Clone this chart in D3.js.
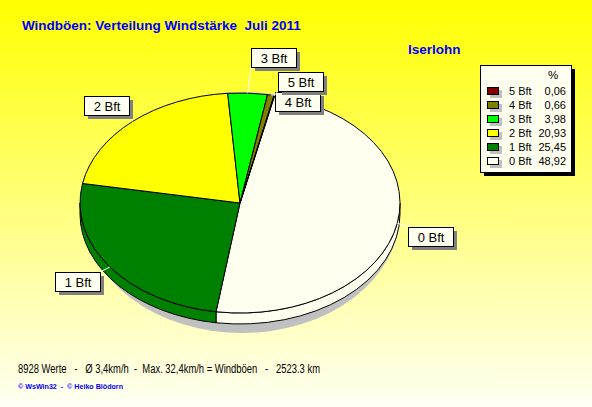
<!DOCTYPE html>
<html><head><meta charset="utf-8">
<script src="https://cdn.jsdelivr.net/npm/d3@7"></script>
<style>body{margin:0;background:#fff}svg{display:block}text{font-family:"Liberation Sans",Arial,sans-serif;white-space:pre}</style>
</head><body><svg id="c" width="592" height="407"></svg>
<script>
// ---- data ----
const categories = ["0 Bft","1 Bft","2 Bft","3 Bft","4 Bft","5 Bft"];
const percentages = [48.92,25.45,20.93,3.98,0.66,0.06];
const colors = ["#fffff0","#008000","#ffff00","#00ff00","#808000","#800000"];
const titleText = "Windböen: Verteilung Windstärke  Juli 2011";
const stationText = "Iserlohn";
const footerText = "8928 Werte   -   Ø 3,4km/h  -  Max. 32,4km/h = Windböen   -   2523.3 km";
const creditText = "© WsWin32  -  © Heiko Blödorn";

// ---- layout ----
const W = 592, H = 407;
const cx = 240, cy = 203, rx = 160, ry = 110, depth = 11;
const startDeg = 12.5;
// label box offsets relative to the slice's mid-angle edge point
const labelOffsets = {
  "0 Bft": [11, 4], "1 Bft": [-55, 5], "2 Bft": [-49, -25],
  "3 Bft": [3, -45], "4 Bft": [4, -3], "5 Bft": [4, -23.5]
};

const svg = d3.select("#c");
const defs = svg.append("defs");
const grad = defs.append("linearGradient").attr("id","bg").attr("x1",0).attr("y1",0).attr("x2",0).attr("y2",1);
grad.append("stop").attr("offset","0%").attr("stop-color","#ffff00");
grad.append("stop").attr("offset","100%").attr("stop-color","#fffff4");
svg.append("rect").attr("width",W).attr("height",H).attr("fill","url(#bg)");

const color = d3.scaleOrdinal().domain(categories).range(colors);
const fmt = v => d3.format(".2f")(v).replace(".", ",");

const pie = d3.pie().sort(null).value(d => d.v)
  .startAngle(startDeg*Math.PI/180).endAngle(startDeg*Math.PI/180 + 2*Math.PI);
const data = categories.map((c,i) => ({c, v: percentages[i]}));
const arcs = pie(data);

const pt = (a, dy=0) => [cx + rx*Math.sin(a), cy - ry*Math.cos(a) + dy];

// shadow
svg.append("ellipse").attr("cx", cx+2).attr("cy", 212.5).attr("rx", 158).attr("ry", 120.5).attr("fill","#c0c0c0");

// side walls (front half: angle in [pi/2, 3pi/2])
const g = svg.append("g");
arcs.forEach(d => {
  const lo = Math.PI/2, hi = 3*Math.PI/2;
  let a0 = Math.max(d.startAngle, lo), a1 = Math.min(d.endAngle, hi);
  if (a1 <= a0) return;
  const p0 = pt(a0), p1 = pt(a1), q1 = pt(a1, depth), q0 = pt(a0, depth);
  const path = `M${p0}A${rx},${ry} 0 0 1 ${p1}L${q1}A${rx},${ry} 0 0 0 ${q0}Z`;
  g.append("path").attr("d", path).attr("fill", color(d.data.c)).attr("stroke","#000").attr("stroke-width",1);
});

// top faces
arcs.forEach(d => {
  const p0 = pt(d.startAngle), p1 = pt(d.endAngle);
  const large = (d.endAngle - d.startAngle) > Math.PI ? 1 : 0;
  const path = `M${cx},${cy}L${p0}A${rx},${ry} 0 ${large} 1 ${p1}Z`;
  g.append("path").attr("d", path).attr("fill", color(d.data.c)).attr("stroke","#000").attr("stroke-width",1).attr("stroke-linejoin","round");
});

// labels
const lab = svg.append("g");
const labelFont = 13;
arcs.forEach(d => {
  const mid = (d.startAngle + d.endAngle)/2;
  const [ax, ay] = pt(mid);
  const off = labelOffsets[d.data.c];
  const tmp = lab.append("text").attr("font-size", labelFont).text(d.data.c);
  const tw = tmp.node().getComputedTextLength();
  tmp.remove();
  const bw = Math.round(tw + 18), bh = 19;
  const bx = Math.round(ax + off[0]), by = Math.round(ay + off[1]);
  const nx = Math.max(bx, Math.min(ax, bx+bw)), ny = Math.max(by, Math.min(ay, by+bh));
  lab.append("line").attr("x1",ax).attr("y1",ay).attr("x2",nx).attr("y2",ny).attr("stroke","#fff").attr("stroke-width",1);
  const bg = lab.append("g");
  bg.append("rect").attr("x",bx+4).attr("y",by+4).attr("width",bw).attr("height",bh).attr("fill","#808080");
  bg.append("rect").attr("x",bx+0.5).attr("y",by+0.5).attr("width",bw).attr("height",bh).attr("fill","#fffff0").attr("stroke","#000");
  bg.append("text").attr("x", bx + bw/2 + 0.5).attr("y", by + bh/2 + 5.5).attr("text-anchor","middle")
    .attr("font-size", labelFont).attr("fill","#000").text(d.data.c);
});

// title
svg.append("text").attr("x",22).attr("y",30).attr("font-size",13.5).attr("font-weight","bold").attr("fill","#0000ff").text(titleText);
svg.append("text").attr("x",408).attr("y",54).attr("font-size",13.5).attr("font-weight","bold").attr("fill","#0000ff").text(stationText);

// legend
const L = {x:480, y:65, w:91, h:107};
svg.append("rect").attr("x",L.x+4).attr("y",L.y+4).attr("width",L.w).attr("height",L.h).attr("fill","#000");
svg.append("rect").attr("x",L.x+0.5).attr("y",L.y+0.5).attr("width",L.w).attr("height",L.h).attr("fill","#fffff0").attr("stroke","#000");
svg.append("text").attr("x",553).attr("y",79).attr("font-size",11.5).attr("text-anchor","middle").text("%");
const legendOrder = categories.map((c,i)=>i).reverse();
const rowY = d3.scalePoint().domain(legendOrder.map(i=>categories[i])).range([91,161]);
legendOrder.forEach(i => {
  const c = categories[i];
  const y = rowY(c);
  svg.append("rect").attr("x",490).attr("y",y-1).attr("width",12).attr("height",8).attr("fill","#c0c0c0");
  svg.append("rect").attr("x",487.5).attr("y",y-3.5).attr("width",11).attr("height",7).attr("fill",color(c)).attr("stroke","#000");
  svg.append("text").attr("x",509).attr("y",y+4).attr("font-size",11).text(c);
  svg.append("text").attr("x",566).attr("y",y+4).attr("font-size",11).attr("text-anchor","end").text(fmt(percentages[i]));
});

// footer
svg.append("text").attr("x",18).attr("y",373).attr("font-size",12).attr("fill","#000")
  .attr("textLength", 302).attr("lengthAdjust","spacingAndGlyphs").text(footerText);
svg.append("text").attr("x",18).attr("y",389).attr("font-size",8).attr("font-weight","bold").attr("fill","#0000ff")
  .attr("textLength", 105).attr("lengthAdjust","spacingAndGlyphs").text(creditText);
</script></body></html>
